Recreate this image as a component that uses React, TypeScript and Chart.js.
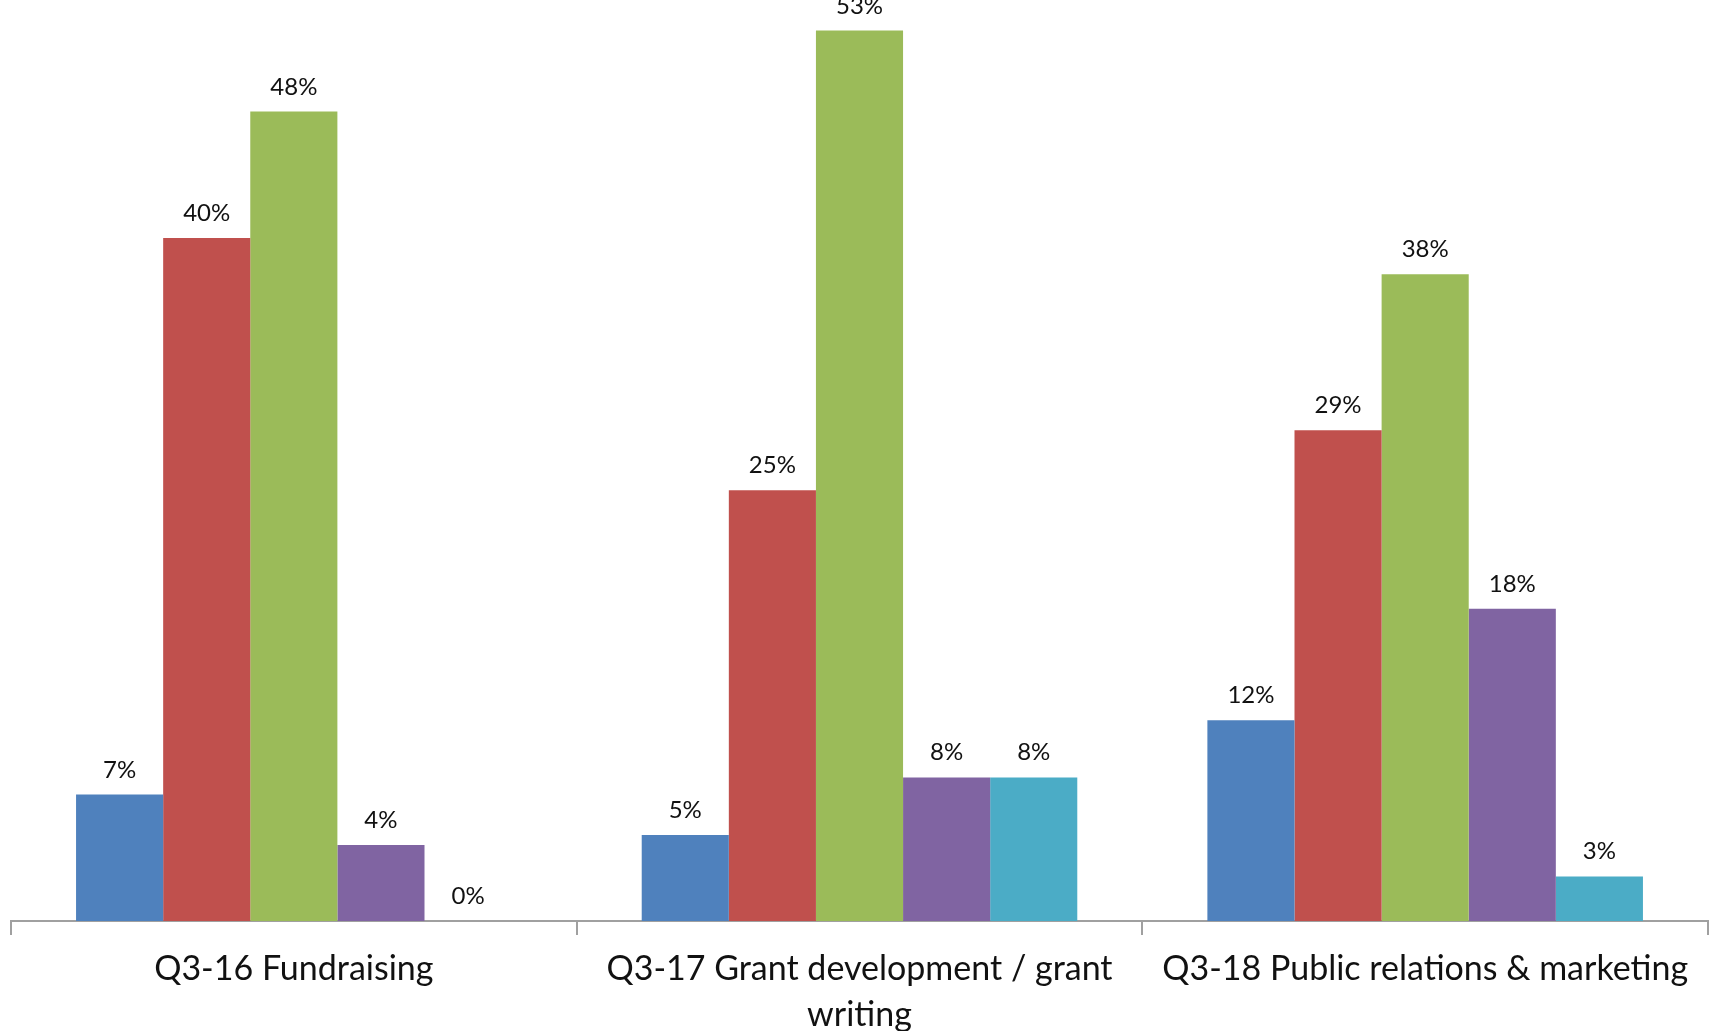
import React, { useEffect, useRef } from "react";
import { Chart, registerables } from "chart.js";

Chart.register(...registerables);

// Category (tick) labels, multi-line where the reference wraps
const categories: string[][] = [
  ["Q3-16 Fundraising"],
  ["Q3-17 Grant development / grant", "writing"],
  ["Q3-18 Public relations & marketing"],
];

// Series values (percent), one array per coloured series
const seriesBlue = [7.46, 5.08, 11.84];
const seriesRed = [40.3, 25.42, 28.95];
const seriesGreen = [47.76, 52.54, 38.16];
const seriesPurple = [4.48, 8.47, 18.42];
const seriesCyan = [0, 8.47, 2.63];

const seriesValues = [seriesBlue, seriesRed, seriesGreen, seriesPurple, seriesCyan];
const seriesNames = ["Series 1", "Series 2", "Series 3", "Series 4", "Series 5"];
const seriesColors = ["#4F81BD", "#C0504D", "#9BBB59", "#8064A2", "#4BACC6"];

const FONT = "Lato, 'Open Sans', sans-serif";

const valueLabels = {
  id: "valueLabels",
  afterDatasetsDraw(chart: any) {
    const ctx = chart.ctx;
    ctx.save();
    ctx.font = `24px ${FONT}`;
    ctx.fillStyle = "#111";
    ctx.textAlign = "center";
    ctx.textBaseline = "alphabetic";
    chart.data.datasets.forEach((ds: any, i: number) => {
      const meta = chart.getDatasetMeta(i);
      meta.data.forEach((bar: any, j: number) => {
        const v = ds.data[j] as number;
        ctx.fillText(`${Math.round(v)}%`, bar.x, bar.y - 17);
      });
    });
    ctx.restore();
  },
};

export default function App() {
  const canvasRef = useRef<HTMLCanvasElement | null>(null);

  useEffect(() => {
    if (!canvasRef.current) return;
    const chart = new Chart(canvasRef.current, {
      type: "bar",
      data: {
        labels: categories,
        datasets: seriesValues.map((vals, i) => ({
          label: seriesNames[i],
          data: vals,
          backgroundColor: seriesColors[i],
          borderWidth: 0,
          categoryPercentage: 0.77,
          barPercentage: 1,
        })),
      },
      options: {
        animation: false,
        responsive: false,
        devicePixelRatio: 1,
        layout: { padding: { left: 11, right: 5, top: 0, bottom: 0 } },
        plugins: {
          legend: { display: false },
          tooltip: { enabled: false },
        },
        scales: {
          x: {
            offset: true,
            grid: {
              offset: true,
              drawOnChartArea: false,
              drawTicks: true,
              tickLength: 14,
              color: "#a0a0a0",
              lineWidth: 2,
            },
            border: { display: true, color: "#a0a0a0", width: 2 },
            ticks: {
              autoSkip: false,
              maxRotation: 0,
              minRotation: 0,
              padding: 11,
              color: "#111",
              font: { family: FONT, size: 34, lineHeight: 1.353 },
            },
            afterFit: (s: any) => {
              s.height = 110;
            },
          },
          y: {
            display: false,
            min: 0,
            max: 54.34,
          },
        },
      },
      plugins: [valueLabels],
    });
    return () => chart.destroy();
  }, []);

  return (
    <div
      style={{
        position: "fixed",
        left: 0,
        top: 0,
        width: 1713,
        height: 1031,
        background: "#fff",
      }}
    >
      <canvas ref={canvasRef} width={1713} height={1031} style={{ display: "block" }} />
    </div>
  );
}
